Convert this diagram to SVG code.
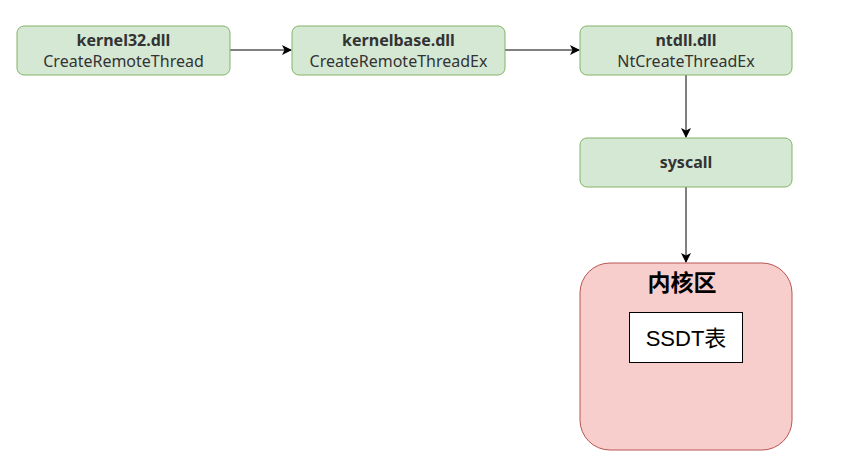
<svg xmlns="http://www.w3.org/2000/svg" width="857" height="472" viewBox="0 0 857 472">
<style>
.n{fill:#d5e8d4;stroke:#82b366;stroke-width:1}
.t{font-family:"Noto Sans","Noto Sans CJK SC",sans-serif;font-size:16px;fill:#333;text-anchor:middle}
.b{font-weight:bold}
.c{stroke:#000;stroke-width:1;fill:none}
</style>
<defs>
<marker id="a" viewBox="0 0 10 10" refX="9" refY="5" markerWidth="10" markerHeight="10" markerUnits="userSpaceOnUse" orient="auto">
<path d="M0,0 L10,5 L0,10 L2.5,5 Z" fill="#000"/>
</marker>
</defs>
<rect width="857" height="472" fill="#fff"/>
<g id="connectors">
<line class="c" x1="230" y1="50" x2="291" y2="50" marker-end="url(#a)"/>
<line class="c" x1="505" y1="50" x2="579" y2="50" marker-end="url(#a)"/>
<line class="c" x1="686" y1="75" x2="686" y2="137" marker-end="url(#a)"/>
<line class="c" x1="686" y1="187" x2="686" y2="262" marker-end="url(#a)"/>
</g>
<g id="kernel32">
<rect class="n" x="17" y="26" width="213" height="49" rx="7"/>
<text class="t b" x="123.5" y="46">kernel32.dll</text>
<text class="t" x="123.5" y="67">CreateRemoteThread</text>
</g>
<g id="kernelbase">
<rect class="n" x="292" y="26" width="213" height="49" rx="7"/>
<text class="t b" x="398.5" y="46">kernelbase.dll</text>
<text class="t" x="398.5" y="67">CreateRemoteThreadEx</text>
</g>
<g id="ntdll">
<rect class="n" x="580" y="26" width="212" height="49" rx="7"/>
<text class="t b" x="686" y="46">ntdll.dll</text>
<text class="t" x="686" y="67">NtCreateThreadEx</text>
</g>
<g id="syscall">
<rect class="n" x="580" y="138" width="212" height="49" rx="7"/>
<text class="t b" x="686" y="168">syscall</text>
</g>
<g id="kernel">
<rect x="580" y="263" width="212" height="187" rx="30" fill="#f8cecc" stroke="#b85450"/>
<text x="682" y="291" font-family="'Noto Sans CJK SC',sans-serif" font-size="23" font-weight="bold" text-anchor="middle" fill="#000">内核区</text>
</g>
<g id="ssdt">
<rect x="629.5" y="312.5" width="113" height="50" fill="#fff" stroke="#000"/>
<text x="686" y="346" font-family="'Liberation Sans','Noto Sans CJK SC',sans-serif" font-size="22" text-anchor="middle" fill="#000">SSDT表</text>
</g>
</svg>
